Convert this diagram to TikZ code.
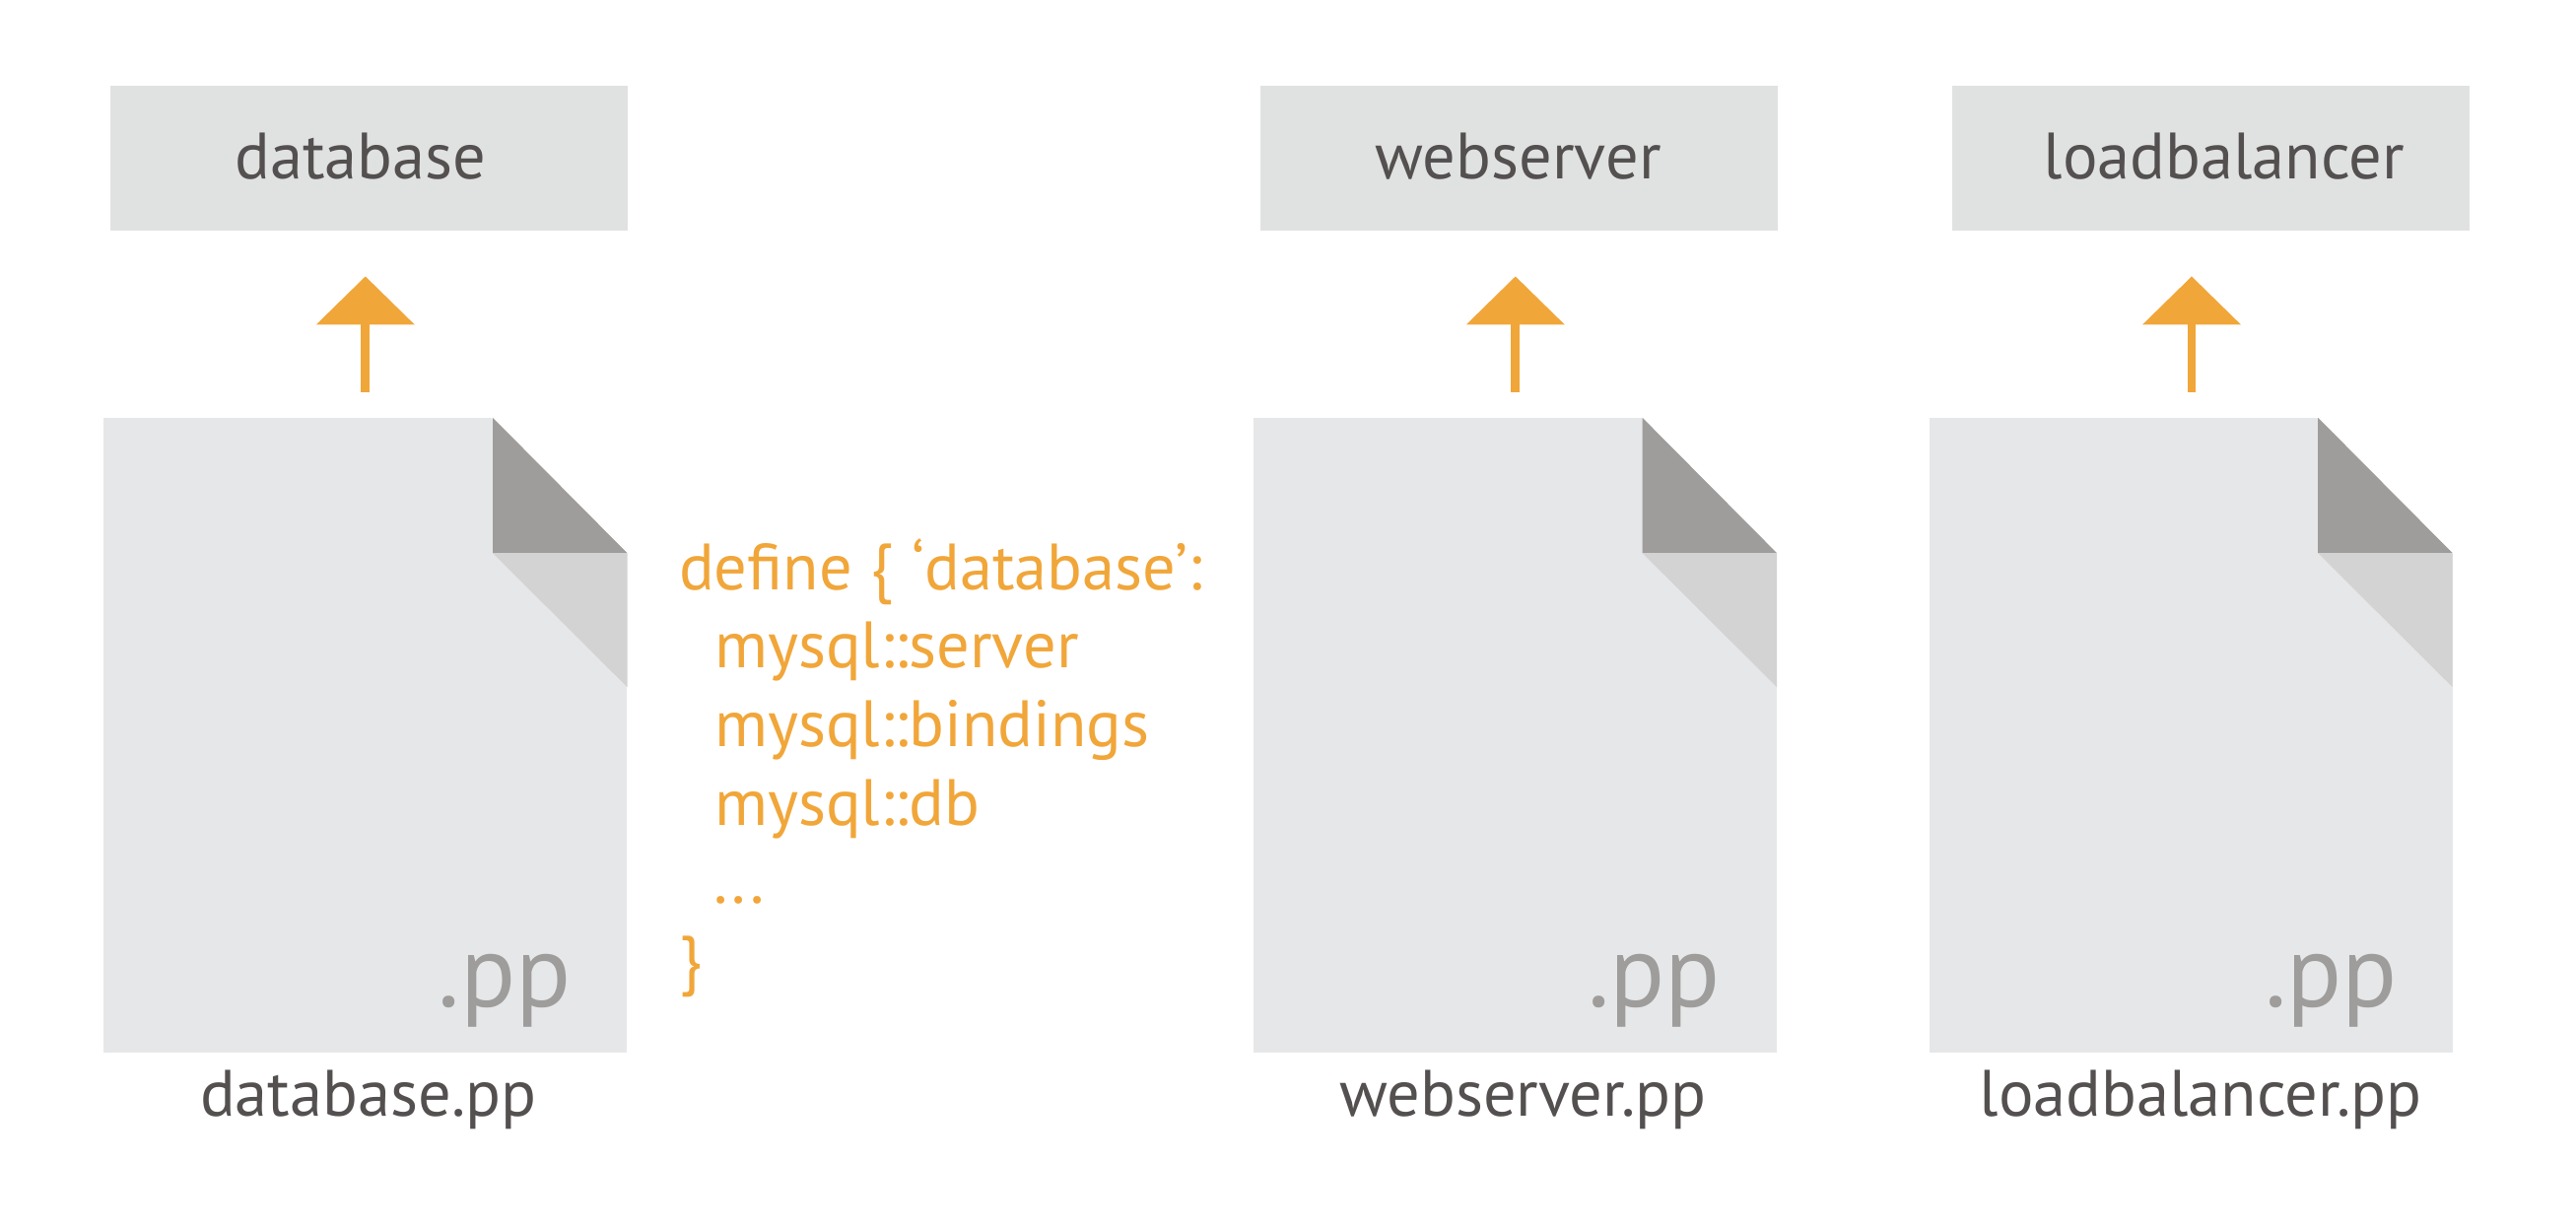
\documentclass[tikz,border=0pt]{standalone}
\usepackage{fontspec}
\setmainfont{PT Sans}
\usetikzlibrary{arrows.meta}
\definecolor{boxgray}{HTML}{E0E2E1}
\definecolor{pagegray}{HTML}{E6E7E9}
\definecolor{folddark}{HTML}{9E9D9B}
\definecolor{foldlight}{HTML}{D3D3D3}
\definecolor{codeorange}{HTML}{F1A63A}
\definecolor{labelgray}{HTML}{545050}
\tikzset{>={Triangle[length=49pt,width=98pt]}}
\tikzset{
  classbox/.style={fill=boxgray,minimum width=525pt,minimum height=147pt,inner sep=0pt},
  filepage/.style={fill=pagegray,minimum width=531pt,minimum height=644pt,inner sep=0pt},
  cornercut/.style={fill=white,draw=white,line width=1.5pt},
  filename/.style={text=labelgray,inner sep=0pt,anchor=base,font=\fontsize{66.5}{66.5}\selectfont},
  ext/.style={text=folddark,inner sep=0pt,anchor=base east,font=\fontsize{104}{104}\selectfont},
  code/.style={text=codeorange,inner sep=0pt,anchor=base west,font=\fontsize{66.5}{66.5}\selectfont},
  include/.style={->,draw=codeorange,line width=8.8pt,shorten <=26pt,shorten >=46.4pt}
}
\begin{document}
\begin{tikzpicture}[x=1pt,y=-1pt]
\useasboundingbox (0,0) rectangle (2614,1249);
\node[classbox] (dbbox) at (374,160.3) {};
\node[classbox] (webbox) at (1541,160.3) {};
\node[classbox] (lbbox) at (2243,160.3) {};
\node[filename] (dblabel) at (365.8,181.7) {database};
\node[filename] (weblabel) at (1540.6,181.7) {webserver};
\node[filename] (lblabel) at (2256.9,181.7) {loadbalancer};
\node[filepage] (dbfile) at (370.8,746) {};
\node[filepage] (webfile) at (1537.4,746) {};
\node[filepage] (lbfile) at (2223,746) {};
% folded corners
\draw[cornercut] (dbfile.north east) -- ++(-136.5,0) -- ++(136.5,137.4) -- cycle;
\fill[folddark] (dbfile.north east) ++(-136.5,0) -- ++(136.5,137.4) -- ++(-136.5,0) -- cycle;
\fill[foldlight] (dbfile.north east) ++(-136.5,137.4) -- ++(136.5,0) -- ++(0,136) -- cycle;
\draw[cornercut] (webfile.north east) -- ++(-136.5,0) -- ++(136.5,137.4) -- cycle;
\fill[folddark] (webfile.north east) ++(-136.5,0) -- ++(136.5,137.4) -- ++(-136.5,0) -- cycle;
\fill[foldlight] (webfile.north east) ++(-136.5,137.4) -- ++(136.5,0) -- ++(0,136) -- cycle;
\draw[cornercut] (lbfile.north east) -- ++(-136.5,0) -- ++(136.5,137.4) -- cycle;
\fill[folddark] (lbfile.north east) ++(-136.5,0) -- ++(136.5,137.4) -- ++(-136.5,0) -- cycle;
\fill[foldlight] (lbfile.north east) ++(-136.5,137.4) -- ++(136.5,0) -- ++(0,136) -- cycle;
% arrows
\draw[include] (dbfile.north) -- (dbfile.north |- dbbox.south);
\draw[include] ([xshift=0.4pt]webfile.north) -- ([xshift=0.4pt]webfile.north |- webbox.south);
\draw[include] ([xshift=1pt]lbfile.north) -- ([xshift=1pt]lbfile.north |- lbbox.south);
\node[ext] (dbext) at (579.8,1021.5) {.pp};
\node[ext] (webext) at (1746.4,1021.5) {.pp};
\node[ext] (lbext) at (2433,1021.5) {.pp};
\node[filename] (dbname) at (373.7,1132) {database.pp};
\node[filename] (webname) at (1545.2,1132) {webserver.pp};
\node[filename] (lbname) at (2232.9,1132) {loadbalancer.pp};
% manifest text
\node[code] (line1) at (689,598) {define\hspace{18.8pt}\{\hspace{18.8pt}‘database’:};
\node[code] (line2) at (725,677) {mysql::server};
\node[code] (line3) at (725,757) {mysql::bindings};
\node[code] (line4) at (725,837) {mysql::db};
\node[code] (line5) at (724,916) {...};
\node[code] (line6) at (689,996) {\}};
\end{tikzpicture}
\end{document}
